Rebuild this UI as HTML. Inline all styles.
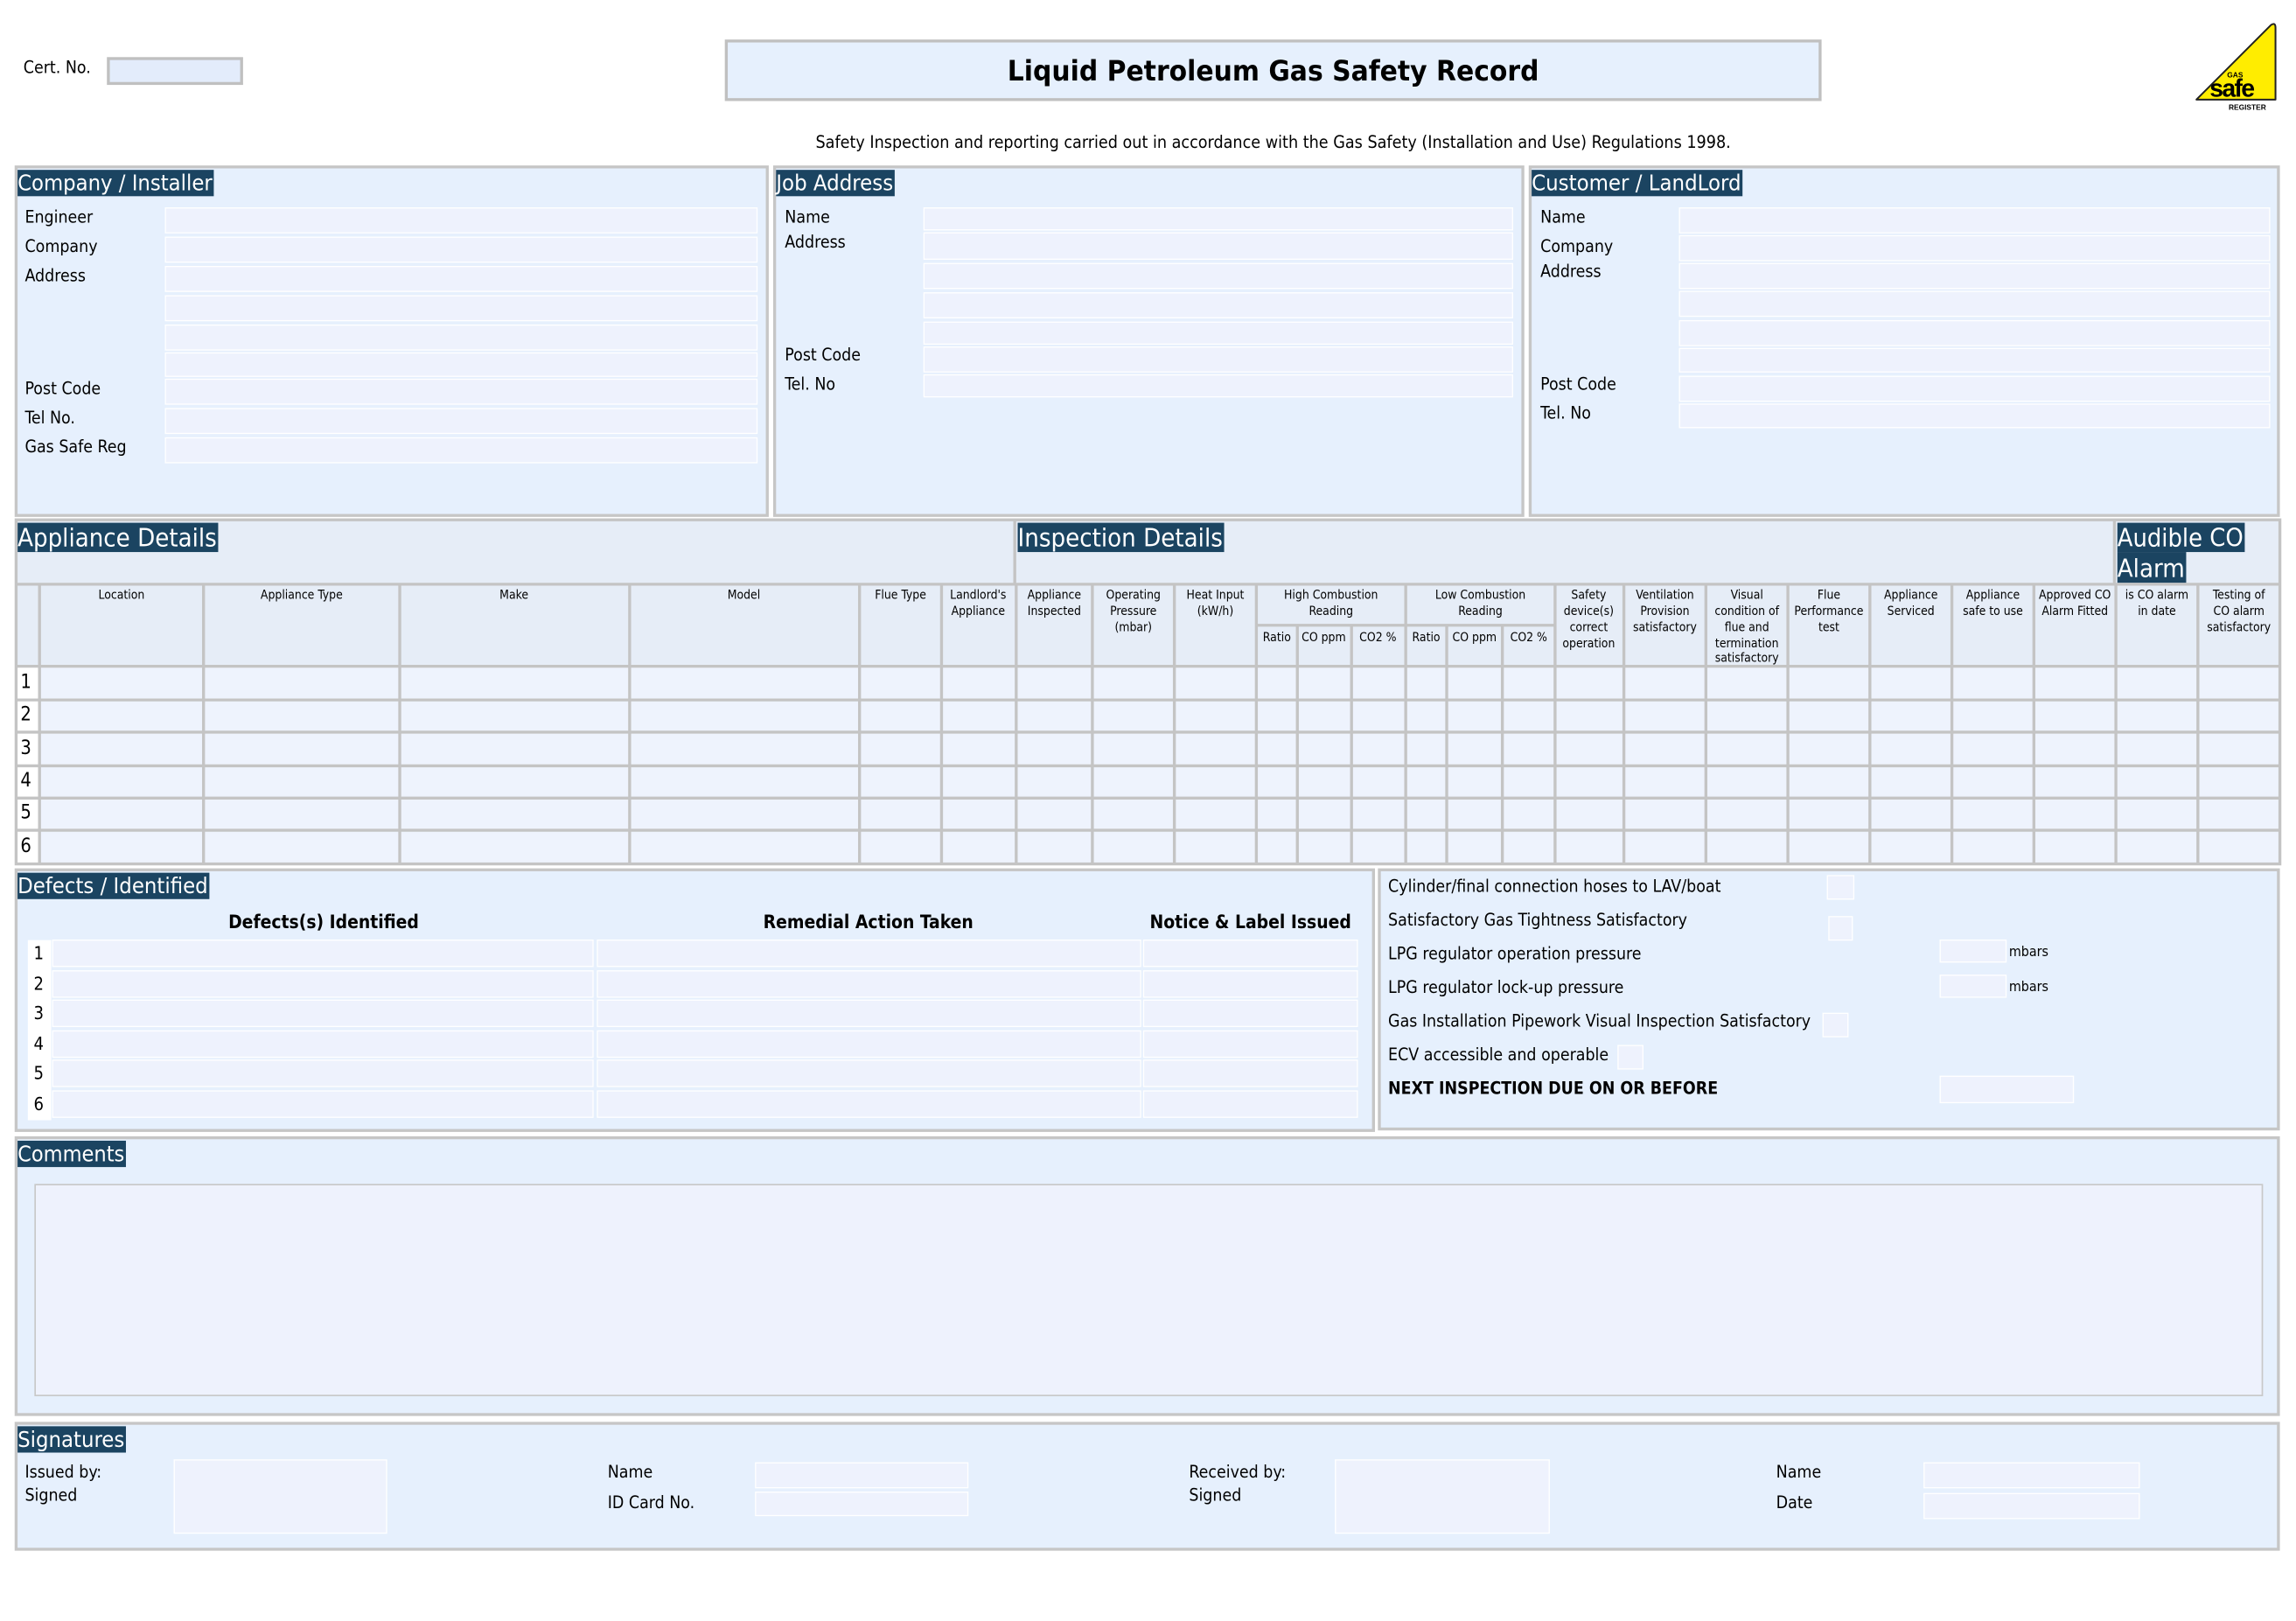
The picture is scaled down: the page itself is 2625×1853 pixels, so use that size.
<!DOCTYPE html>
<html><head><meta charset="utf-8"><style>
html,body{margin:0;padding:0;background:#fff;width:2625px;height:1853px;overflow:hidden}
svg{display:block}
text{font-family:"DejaVu Sans Condensed","DejaVu Sans","Liberation Sans",sans-serif;font-stretch:condensed;fill:#000}
.l{font-size:11.6px}
.h{font-size:15px;fill:#fff}
.hh{font-size:17px;fill:#fff}
.s{font-size:8.3px}
.f{fill:#eef2fd;stroke:#fff;stroke-width:.8}
.sec{fill:#e6f0fd;stroke:#c6c6c6;stroke-width:2}
.hb{fill:#1b4461}
.g{stroke:#c4c4c4;stroke-width:2;fill:none}
</style></head><body>
<svg width="2625" height="1853" viewBox="0 0 1568 1107" preserveAspectRatio="none" xmlns="http://www.w3.org/2000/svg">
<rect width="1568" height="1107" fill="#fff"/>
<text class="l" x="16" y="50">Cert. No.</text>
<rect x="74" y="40" width="91" height="17" fill="#e3ecfb" stroke="#c0c0c0" stroke-width="2"/>
<rect x="496" y="28" width="747" height="40" fill="#e6f0fd" stroke="#c0c0c0" stroke-width="2"/>
<text x="688" y="55" textLength="363" lengthAdjust="spacingAndGlyphs" style="font-size:19px;font-weight:bold;font-stretch:normal;font-family:'DejaVu Sans',sans-serif">Liquid Petroleum Gas Safety Record</text>
<text x="557" y="101" textLength="625" lengthAdjust="spacingAndGlyphs" style="font-size:11.5px">Safety Inspection and reporting carried out in accordance with the Gas Safety (Installation and Use) Regulations 1998.</text>
<path d="M1500 68 L1551 17 Q1554 15 1554 19 L1554 68 Z" fill="#ffed00" stroke="#222" stroke-width="1.2" stroke-linejoin="round"/>
<text x="1521" y="53" style="font-size:5px;font-family:'Liberation Sans',sans-serif;font-weight:bold">GAS</text>
<text x="1509" y="66" style="font-size:17px;font-family:'Liberation Sans',sans-serif;font-weight:bold;letter-spacing:-1px">safe</text>
<text x="1522" y="75" style="font-size:5px;font-family:'Liberation Sans',sans-serif;font-weight:bold">REGISTER</text>

<rect class="sec" x="11" y="114" width="513" height="238"/>
<rect class="hb" x="12" y="116" width="134" height="18"/>
<text class="h" x="12" y="130" textLength="133" lengthAdjust="spacingAndGlyphs">Company / Installer</text>
<text class="l" x="17" y="152">Engineer</text><text class="l" x="17" y="172">Company</text><text class="l" x="17" y="192">Address</text>
<text class="l" x="17" y="269">Post Code</text><text class="l" x="17" y="289">Tel No.</text><text class="l" x="17" y="309">Gas Safe Reg</text>
<rect class="f" x="113" y="142" width="404" height="17"/><rect class="f" x="113" y="162" width="404" height="17"/>
<rect class="f" x="113" y="182" width="404" height="17"/><rect class="f" x="113" y="202" width="404" height="17"/>
<rect class="f" x="113" y="222" width="404" height="17"/><rect class="f" x="113" y="241" width="404" height="16"/>
<rect class="f" x="113" y="259" width="404" height="17"/><rect class="f" x="113" y="279" width="404" height="17"/>
<rect class="f" x="113" y="299" width="404" height="17"/>
<rect class="sec" x="529" y="114" width="511" height="238"/>
<rect class="hb" x="530" y="116" width="81" height="18"/>
<text class="h" x="530" y="130" textLength="80" lengthAdjust="spacingAndGlyphs">Job Address</text>
<text class="l" x="536" y="152">Name</text><text class="l" x="536" y="169">Address</text>
<text class="l" x="536" y="246">Post Code</text><text class="l" x="536" y="266">Tel. No</text>
<rect class="f" x="631" y="142" width="402" height="15"/><rect class="f" x="631" y="159" width="402" height="18"/>
<rect class="f" x="631" y="180" width="402" height="17"/><rect class="f" x="631" y="200" width="402" height="17"/>
<rect class="f" x="631" y="220" width="402" height="15"/><rect class="f" x="631" y="237" width="402" height="17"/>
<rect class="f" x="631" y="256" width="402" height="15"/>
<rect class="sec" x="1045" y="114" width="511" height="238"/>
<rect class="hb" x="1046" y="116" width="144" height="18"/>
<text class="h" x="1046" y="130" textLength="143" lengthAdjust="spacingAndGlyphs">Customer / LandLord</text>
<text class="l" x="1052" y="152">Name</text><text class="l" x="1052" y="172">Company</text><text class="l" x="1052" y="189">Address</text>
<text class="l" x="1052" y="266">Post Code</text><text class="l" x="1052" y="286">Tel. No</text>
<rect class="f" x="1147" y="142" width="403" height="17"/><rect class="f" x="1147" y="161" width="403" height="17"/>
<rect class="f" x="1147" y="180" width="403" height="17"/><rect class="f" x="1147" y="199" width="403" height="17"/>
<rect class="f" x="1147" y="219" width="403" height="17"/><rect class="f" x="1147" y="238" width="403" height="16"/>
<rect class="f" x="1147" y="257" width="403" height="17"/><rect class="f" x="1147" y="276" width="403" height="16"/>

<rect x="11" y="355" width="1546" height="235" fill="#e6edf7"/>
<rect x="11" y="455" width="1546" height="135" fill="#eef3fd"/>
<rect x="11" y="455" width="16" height="135" fill="#fff"/>
<rect class="hb" x="12" y="357" width="137" height="20"/>
<text class="hh" x="12" y="373" textLength="136" lengthAdjust="spacingAndGlyphs">Appliance Details</text>
<rect class="hb" x="695" y="357" width="141" height="20"/>
<text class="hh" x="695" y="373" textLength="140" lengthAdjust="spacingAndGlyphs">Inspection Details</text>
<rect class="hb" x="1446" y="357" width="87" height="20"/><rect class="hb" x="1446" y="377" width="47" height="21"/>
<text class="hh" x="1446" y="373" textLength="86" lengthAdjust="spacingAndGlyphs">Audible CO</text>
<text class="hh" x="1446" y="394" textLength="46" lengthAdjust="spacingAndGlyphs">Alarm</text>
<g class="g">
<rect x="11" y="355" width="1546" height="235"/>
<path d="M693 355V399M1444 355V399"/>
<path d="M11 399H1557M11 455H1557M11 478H1557M11 500H1557M11 523H1557M11 545H1557M11 567H1557M858 427H1062"/>
<path d="M27 399V590M139 399V590M273 399V590M430 399V590M587 399V590M643 399V590M694 399V590M746 399V590M802 399V590M858 399V590M960 399V590M1062 399V590M1109 399V590M1165 399V590M1221 399V590M1277 399V590M1333 399V590M1389 399V590M1445 399V590M1501 399V590"/>
<path d="M886 427V590M923 427V590M988 427V590M1026 427V590"/>
</g>
<g class="s" text-anchor="middle">
<text x="83" y="409">Location</text><text x="206" y="409">Appliance Type</text><text x="351" y="409">Make</text><text x="508" y="409">Model</text>
<text x="615" y="409">Flue Type</text>
<text x="668" y="409">Landlord's</text><text x="668" y="420">Appliance</text>
<text x="720" y="409">Appliance</text><text x="720" y="420">Inspected</text>
<text x="774" y="409">Operating</text><text x="774" y="420">Pressure</text><text x="774" y="431">(mbar)</text>
<text x="830" y="409">Heat Input</text><text x="830" y="420">(kW/h)</text>
<text x="909" y="409">High Combustion</text><text x="909" y="420">Reading</text>
<text x="1011" y="409">Low Combustion</text><text x="1011" y="420">Reading</text>
<text x="872" y="438">Ratio</text><text x="904" y="438">CO ppm</text><text x="941" y="438">CO2 %</text>
<text x="974" y="438">Ratio</text><text x="1007" y="438">CO ppm</text><text x="1044" y="438">CO2 %</text>
<text x="1085" y="409">Safety</text><text x="1085" y="420">device(s)</text><text x="1085" y="431">correct</text><text x="1085" y="442">operation</text>
<text x="1137" y="409">Ventilation</text><text x="1137" y="420">Provision</text><text x="1137" y="431">satisfactory</text>
<text x="1193" y="409">Visual</text><text x="1193" y="420">condition of</text><text x="1193" y="431">flue and</text><text x="1193" y="442">termination</text><text x="1193" y="452">satisfactory</text>
<text x="1249" y="409">Flue</text><text x="1249" y="420">Performance</text><text x="1249" y="431">test</text>
<text x="1305" y="409">Appliance</text><text x="1305" y="420">Serviced</text>
<text x="1361" y="409">Appliance</text><text x="1361" y="420">safe to use</text>
<text x="1417" y="409">Approved CO</text><text x="1417" y="420">Alarm Fitted</text>
<text x="1473" y="409">is CO alarm</text><text x="1473" y="420">in date</text>
<text x="1529" y="409">Testing of</text><text x="1529" y="420">CO alarm</text><text x="1529" y="431">satisfactory</text>
</g>
<g style="font-size:13px">
<text x="14" y="470">1</text><text x="14" y="492">2</text><text x="14" y="515">3</text><text x="14" y="537">4</text><text x="14" y="559">5</text><text x="14" y="582">6</text>
</g>

<rect class="sec" x="11" y="594" width="927" height="178"/>
<rect class="hb" x="12" y="596" width="131" height="18"/>
<text class="h" x="12" y="610" textLength="130" lengthAdjust="spacingAndGlyphs">Defects / Identified</text>
<g style="font-size:12.5px;font-weight:bold" text-anchor="middle">
<text x="221" y="634">Defects(s) Identified</text><text x="593" y="634">Remedial Action Taken</text><text x="854" y="634">Notice &amp; Label Issued</text>
</g>
<g>
<rect x="19" y="642" width="16" height="123" fill="#fff"/>
<rect class="f" x="36" y="642" width="369" height="18"/><rect class="f" x="408" y="642" width="371" height="18"/><rect class="f" x="781" y="642" width="146" height="18"/>
<rect class="f" x="36" y="663" width="369" height="18"/><rect class="f" x="408" y="663" width="371" height="18"/><rect class="f" x="781" y="663" width="146" height="18"/>
<rect class="f" x="36" y="683" width="369" height="18"/><rect class="f" x="408" y="683" width="371" height="18"/><rect class="f" x="781" y="683" width="146" height="18"/>
<rect class="f" x="36" y="704" width="369" height="18"/><rect class="f" x="408" y="704" width="371" height="18"/><rect class="f" x="781" y="704" width="146" height="18"/>
<rect class="f" x="36" y="724" width="369" height="18"/><rect class="f" x="408" y="724" width="371" height="18"/><rect class="f" x="781" y="724" width="146" height="18"/>
<rect class="f" x="36" y="745" width="369" height="18"/><rect class="f" x="408" y="745" width="371" height="18"/><rect class="f" x="781" y="745" width="146" height="18"/>
</g>
<g style="font-size:12px">
<text x="23" y="655">1</text><text x="23" y="676">2</text><text x="23" y="696">3</text><text x="23" y="717">4</text><text x="23" y="737">5</text><text x="23" y="758">6</text>
</g>
<rect class="sec" x="942" y="594" width="614" height="177"/>
<text class="l" x="948" y="609">Cylinder/final connection hoses to LAV/boat</text>
<text class="l" x="948" y="632">Satisfactory  Gas Tightness Satisfactory</text>
<text class="l" x="948" y="655">LPG regulator operation pressure</text>
<text class="l" x="948" y="678">LPG regulator lock-up pressure</text>
<text class="l" x="948" y="701">Gas Installation Pipework Visual Inspection Satisfactory</text>
<text class="l" x="948" y="724">ECV accessible and operable</text>
<text class="l" x="948" y="747" style="font-weight:bold">NEXT INSPECTION DUE ON OR BEFORE</text>
<rect class="f" x="1248" y="598" width="18" height="16"/><rect class="f" x="1249" y="626" width="16" height="16"/>
<rect class="f" x="1325" y="642" width="45" height="15"/><text x="1372" y="653" style="font-size:9.5px">mbars</text>
<rect class="f" x="1325" y="666" width="45" height="15"/><text x="1372" y="677" style="font-size:9.5px">mbars</text>
<rect class="f" x="1245" y="692" width="17" height="16"/><rect class="f" x="1105" y="714" width="17" height="16"/>
<rect class="f" x="1325" y="735" width="91" height="18"/>

<rect class="sec" x="11" y="777" width="1545" height="189"/>
<rect class="hb" x="12" y="779" width="74" height="18"/>
<text class="h" x="12" y="793" textLength="73" lengthAdjust="spacingAndGlyphs">Comments</text>
<rect x="24" y="809" width="1521" height="144" fill="#eef2fd" stroke="#c8c8c8" stroke-width="1"/>

<rect class="sec" x="11" y="972" width="1545" height="86"/>
<rect class="hb" x="12" y="974" width="74" height="18"/>
<text class="h" x="12" y="988" textLength="73" lengthAdjust="spacingAndGlyphs">Signatures</text>
<text class="l" x="17" y="1009">Issued by:</text><text class="l" x="17" y="1025">Signed</text>
<rect class="f" x="119" y="997" width="145" height="50"/>
<text class="l" x="415" y="1009">Name</text><text class="l" x="415" y="1030">ID Card No.</text>
<rect class="f" x="516" y="999" width="145" height="17"/><rect class="f" x="516" y="1019" width="145" height="16"/>
<text class="l" x="812" y="1009">Received by:</text><text class="l" x="812" y="1025">Signed</text>
<rect class="f" x="912" y="997" width="146" height="50"/>
<text class="l" x="1213" y="1009">Name</text><text class="l" x="1213" y="1030">Date</text>
<rect class="f" x="1314" y="999" width="147" height="17"/><rect class="f" x="1314" y="1020" width="147" height="17"/>
</svg>
</body></html>
